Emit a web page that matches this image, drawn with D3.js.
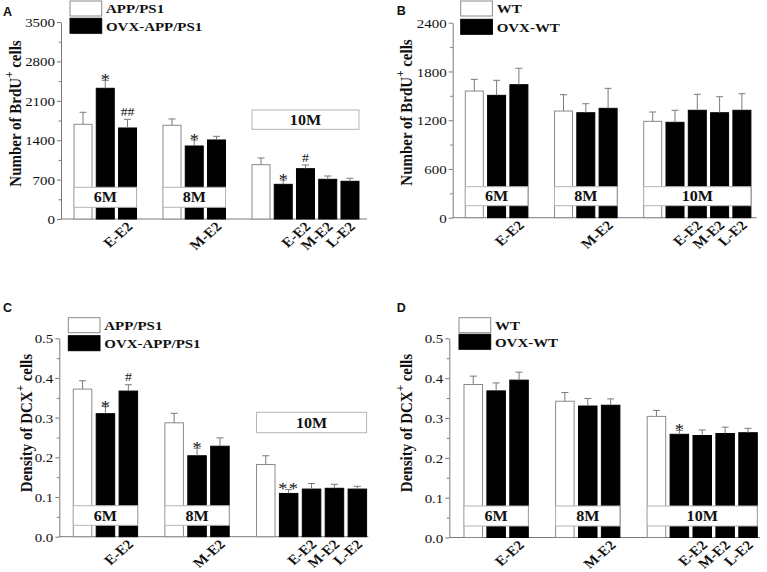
<!DOCTYPE html>
<html><head><meta charset="utf-8">
<script src="https://cdn.jsdelivr.net/npm/d3@7"></script>
<style>body{margin:0;background:#fff} svg{display:block}</style>
</head><body>
<svg id="chart" width="767" height="572"></svg>
<script>
// ---------------- DATA ----------------
const slots = ["6M-1","6M-2","6M-3","gap-1","8M-1","8M-2","8M-3","gap-2","10M-1","10M-2","10M-3","10M-4","10M-5"];
const barSlots  = [0,1,2,4,5,6,8,9,10,11,12];
const barSeries = [0,1,1,0,1,1,0,1,1,1,1];
const xTickSlots  = [2,6,10,11,12];
const xTickLabels = ["E-E2","M-E2","E-E2","M-E2","L-E2"];
const ageLabels   = ["6M","8M","10M"];
const ageSlotSpans = [[0,2],[4,6],[8,12]];

const legendApp = ["APP/PS1","OVX-APP/PS1"];
const legendWt  = ["WT","OVX-WT"];

const brduTicks = [0,700,1400,2100,2800,3500];
const brduWtTicks = [0,600,1200,1800,2400];
const dcxTicks = [0,0.1,0.2,0.3,0.4,0.5];

const brduAppMean = [1682,2322,1617,1665,1297,1404,965,616,894,705,670];
const brduAppSem  = [214,142,154,112,107,65,119,77,65,59,53];
const brduWtMean  = [1559,1506,1637,1313,1292,1346,1186,1174,1322,1292,1322];
const brduWtSem   = [144,185,202,201,111,246,115,148,197,197,204];
const dcxAppMean  = [0.372,0.310,0.367,0.287,0.204,0.228,0.182,0.109,0.120,0.122,0.120];
const dcxAppSem   = [0.021,0.018,0.016,0.024,0.019,0.021,0.022,0.010,0.014,0.010,0.007];
const dcxWtMean   = [0.384,0.368,0.395,0.342,0.330,0.332,0.304,0.259,0.256,0.261,0.263];
const dcxWtSem    = [0.021,0.020,0.020,0.022,0.019,0.016,0.015,0.010,0.014,0.016,0.011];

const marksA = [{bar:1,t:"*"},{bar:2,t:"##"},{bar:4,t:"*"},{bar:7,t:"*"},{bar:8,t:"#"}];
const marksB = [];
const marksC = [{bar:1,t:"*"},{bar:2,t:"#"},{bar:4,t:"*"},{bar:7,t:"**"}];
const marksD = [{bar:7,t:"*"}];

// ---------------- LAYOUT ----------------
const S = 1.15; // horizontal text stretch
const SERIF = "'Liberation Serif','Times New Roman',serif";
const SANS = "'Liberation Sans',Arial,sans-serif";
const AXC = "#7a7a7a";

const panels = [
 {letter:"A", lx:3, ly:15.5, x0:61, xEnd:367, yTop:22, yBot:219, ticks:brduTicks, fmt:d3.format("d"),
  band:[71.9,361.1], pad:0.191, mean:brduAppMean, sem:brduAppSem, marks:marksA, legend:legendApp,
  legX:70, legY:1, legGap:17.3, titleX:21, titleY:113.5, titleMain:"Number of BrdU",
  boxes:[[187.3,207.3],[187.3,207.3],[110,129.3]]},
 {letter:"B", lx:396.7, ly:15, x0:452.7, xEnd:756.7, yTop:22.7, yBot:217.7, ticks:brduWtTicks, fmt:d3.format("d"),
  band:[463.15,753.05], pad:0.193, mean:brduWtMean, sem:brduWtSem, marks:marksB, legend:legendWt,
  legX:460.7, legY:1, legGap:18.3, titleX:411.7, titleY:112.5, titleMain:"Number of BrdU",
  boxes:[[186.7,205.7],[186.7,205.7],[186.7,205.7]]},
 {letter:"C", lx:3, ly:311.7, x0:59.3, xEnd:368.3, yTop:338.3, yBot:536.7, ticks:dcxTicks, fmt:d3.format(".1f"),
  band:[71.1,368.8], pad:0.192, mean:dcxAppMean, sem:dcxAppSem, marks:marksC, legend:legendApp,
  legX:68.3, legY:317.7, legGap:18, titleX:31.7, titleY:423, titleMain:"Density of DCX",
  boxes:[[505.7,525.3],[505.7,525.3],[412.3,432.7]]},
 {letter:"D", lx:396.7, ly:311.7, x0:449.3, xEnd:760, yTop:338.3, yBot:537.5, ticks:dcxTicks, fmt:d3.format(".1f"),
  band:[461.8,759.5], pad:0.192, mean:dcxWtMean, sem:dcxWtSem, marks:marksD, legend:legendWt,
  legX:459, legY:317.7, legGap:16.6, titleX:412.3, titleY:423, titleMain:"Density of DCX",
  boxes:[[506,526],[506,526],[506,526]]}
];

const svg = d3.select("#chart");
svg.append("rect").attr("width",767).attr("height",572).attr("fill","#fff");

function drawPanel(p){
  const g = svg.append("g");
  const yMax = p.ticks[p.ticks.length-1];
  const y = d3.scaleLinear().domain([0,yMax]).range([p.yBot,p.yTop]);
  const x = d3.scaleBand().domain(slots).range(p.band).paddingInner(p.pad).paddingOuter(p.pad/2);
  const bw = x.bandwidth();

  // minor ticks
  const minors = [];
  for(let i=0;i<p.ticks.length-1;i++) minors.push((p.ticks[i]+p.ticks[i+1])/2);
  g.append("g").attr("transform",`translate(${p.x0},0)`)
    .call(d3.axisLeft(y).tickValues(minors).tickSize(2.5).tickFormat(""))
    .call(a=>a.select(".domain").remove())
    .call(a=>a.selectAll("line").attr("stroke",AXC));

  // major axis
  const ax = g.append("g").attr("transform",`translate(${p.x0},0)`)
    .call(d3.axisLeft(y).tickValues(p.ticks).tickSize(4).tickSizeOuter(0).tickFormat(p.fmt));
  ax.select(".domain").attr("stroke",AXC);
  ax.selectAll("line").attr("stroke",AXC);
  ax.selectAll("text").attr("x",-6/S).attr("dy","0.35em").attr("transform",`scale(${S},1)`)
    .attr("font-family",SERIF).attr("font-size",13).attr("fill","#111");

  // x axis line
  g.append("line").attr("x1",p.x0).attr("x2",p.xEnd).attr("y1",p.yBot).attr("y2",p.yBot)
    .attr("stroke",AXC).attr("stroke-width",1);

  // bars
  const bars = p.mean.map((m,i)=>({m, s:p.sem[i], slot:slots[barSlots[i]], ser:barSeries[i]}));
  g.selectAll("rect.bar").data(bars).join("rect").attr("class","bar")
    .attr("x",d=>x(d.slot)).attr("width",bw)
    .attr("y",d=>y(d.m)).attr("height",d=>p.yBot-y(d.m))
    .attr("fill",d=>d.ser?"#000":"#fff")
    .attr("stroke",d=>d.ser?"#000":"#8a8a8a").attr("stroke-width",1);

  // error bars
  const eb = g.selectAll("g.eb").data(bars).join("g").attr("class","eb");
  eb.append("line").attr("x1",d=>x(d.slot)+bw/2).attr("x2",d=>x(d.slot)+bw/2)
    .attr("y1",d=>y(d.m)).attr("y2",d=>y(d.m+d.s)).attr("stroke","#7a7a7a");
  eb.append("line").attr("x1",d=>x(d.slot)+bw/2-3.5).attr("x2",d=>x(d.slot)+bw/2+3.5)
    .attr("y1",d=>y(d.m+d.s)).attr("y2",d=>y(d.m+d.s)).attr("stroke","#7a7a7a");

  // significance marks
  p.marks.forEach(mk=>{
    const b = bars[mk.bar];
    const top = y(b.m+b.s);
    const isStar = mk.t.indexOf("*")>=0;
    g.append("text").text(mk.t)
      .attr("transform",`translate(${x(b.slot)+bw/2},${isStar? top+5 : top-3.5}) scale(${S},1)`)
      .attr("text-anchor","middle").attr("font-family",SERIF)
      .attr("font-size",isStar?16:12).attr("letter-spacing",mk.t==="**"?"1px":"0px").attr("fill","#111");
  });

  // x tick labels
  xTickSlots.forEach((si,i)=>{
    const cx = x(slots[si])+bw/2;
    g.append("text").text(xTickLabels[i])
      .attr("transform",`translate(${cx+6},${p.yBot+8.5}) scale(${S},1) rotate(-45)`)
      .attr("text-anchor","end").attr("font-family",SERIF).attr("font-weight","bold")
      .attr("font-size",13.5).attr("fill","#111");
  });

  // age boxes
  ageSlotSpans.forEach((sp,i)=>{
    const bx0 = x(slots[sp[0]]), bx1 = x(slots[sp[1]])+bw;
    const [t0,t1] = p.boxes[i];
    g.append("rect").attr("x",bx0).attr("y",t0).attr("width",bx1-bx0).attr("height",t1-t0)
      .attr("fill","#fff").attr("stroke","#b5b5b5").attr("stroke-width",1);
    g.append("text").text(ageLabels[i])
      .attr("transform",`translate(${(bx0+bx1)/2},${(t0+t1)/2+5}) scale(${S},1)`)
      .attr("text-anchor","middle").attr("font-family",SERIF).attr("font-weight","bold")
      .attr("font-size",14).attr("fill","#111");
  });

  // legend
  p.legend.forEach((lab,i)=>{
    const ly = p.legY + i*p.legGap;
    g.append("rect").attr("x",p.legX).attr("y",ly).attr("width",31.7).attr("height",15)
      .attr("fill",i?"#000":"#fff").attr("stroke",i?"#000":"#8a8a8a");
    g.append("text").text(lab)
      .attr("transform",`translate(${p.legX+36},${ly+12.3}) scale(${S},1)`)
      .attr("font-family",SERIF).attr("font-weight","bold").attr("font-size",13).attr("fill","#111");
  });

  // y title
  const t = g.append("text")
    .attr("transform",`translate(${p.titleX},${p.titleY}) scale(${S},1) rotate(-90)`)
    .attr("text-anchor","middle").attr("font-family",SERIF).attr("font-weight","bold")
    .attr("font-size",15).attr("fill","#111");
  t.append("tspan").text(p.titleMain);
  t.append("tspan").text("+").attr("dy",-7).attr("font-size",11);
  t.append("tspan").text(" cells").attr("dy",7);

  // panel letter
  g.append("text").text(p.letter).attr("x",p.lx).attr("y",p.ly)
    .attr("font-family",SANS).attr("font-weight","bold").attr("font-size",12.5).attr("fill","#111");
}

panels.forEach(drawPanel);
</script>
</body></html>
